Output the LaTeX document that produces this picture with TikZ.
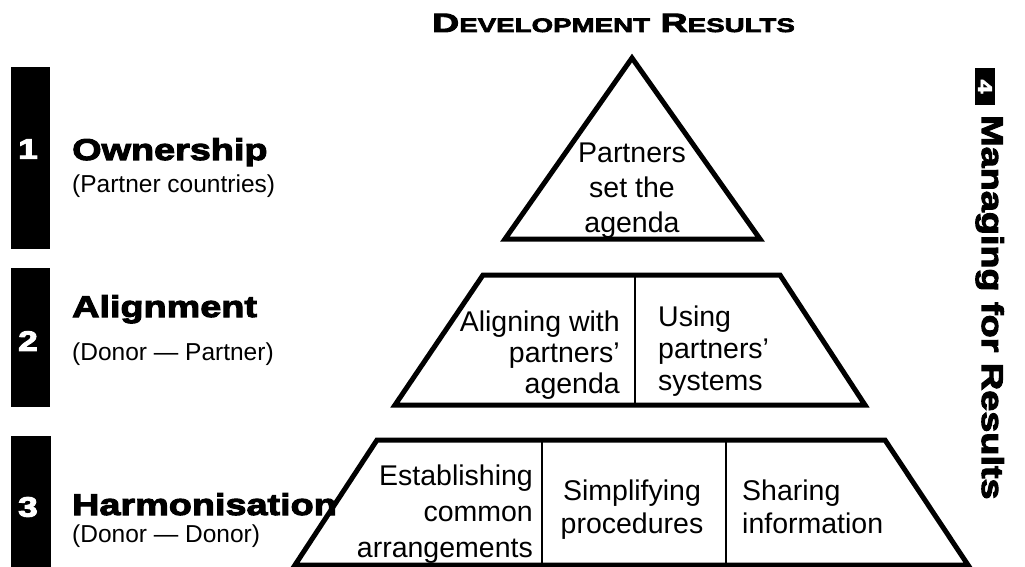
\documentclass[tikz,border=0pt]{standalone}
\usepackage{fontspec}
\setmainfont{Liberation Sans}
\newfontfamily\heavy[FakeBold=3.5,FakeStretch=1.26]{Liberation Sans Bold}
\newfontfamily\heavytitle[FakeBold=3.5,FakeStretch=1.42]{Liberation Sans Bold}
\begin{document}
\begin{tikzpicture}[x=1pt,y=-1pt,
  shapeline/.style={line width=5pt,line join=miter},
  divider/.style={line width=2pt},
  body/.style={inner sep=0pt,font=\fontsize{28.5}{#1}\selectfont},
  num/.style={text=white,inner sep=0pt,font=\heavy\fontsize{28}{28}\selectfont},
  heading/.style={anchor=base west,inner sep=0pt,font=\heavy\fontsize{30}{30}\selectfont},
  sub/.style={anchor=base west,inner sep=0pt,font=\fontsize{24.5}{24.5}\selectfont},
  bar/.style={fill=black}]
\useasboundingbox (0,0) rectangle (1025,567);

% title
\node[anchor=base,inner sep=0pt,font=\heavytitle] (title) at (613.5,32)
  {{\fontsize{26.5}{26.5}\selectfont D}{\fontsize{19.5}{19.5}\selectfont EVELOPMENT}\fontsize{26.5}{26.5}\selectfont{} R{\fontsize{19.5}{19.5}\selectfont ESULTS}};

% left bars and numbers
\fill[bar] (11,67) rectangle (50,249);
\fill[bar] (11,268) rectangle (50,407);
\fill[bar] (11,436) rectangle (51,567);
\node[num] (n1) at (28,149) {1};
\node[num] (n2) at (28,341) {2};
\node[num] (n3) at (28,507) {3};

\node[heading] (own) at (72,160) {Ownership};
\node[sub] (ownsub) at (72,192) {(Partner countries)};
\node[heading] (ali) at (72,317) {Alignment};
\node[sub] (alisub) at (72,360) {(Donor — Partner)};
\node[heading] (har) at (72,515) {Harmonisation};
\node[sub] (harsub) at (72,542) {(Donor — Donor)};

% triangle
\draw[shapeline] (632,58) -- (760,239) -- (505,239) -- cycle;
\node[body=35,anchor=north,align=center] (t1) at (632,143) {Partners\\set the\\agenda};

% middle trapezoid
\draw[shapeline] (483,275) -- (780,275) -- (865,405) -- (395,405) -- cycle;
\draw[divider] (635,275) -- (635,405);
\node[body=31,anchor=north east,align=right] (m1) at (620,311) {Aligning with\\partners'\\agenda};
\node[body=32,anchor=north west,align=left] (m2) at (658,306) {Using\\partners'\\systems};

% bottom trapezoid
\draw[shapeline] (377,440) -- (885,440) -- (968,565) -- (295,565) -- cycle;
\draw[divider] (542,440) -- (542,565);
\draw[divider] (726,440) -- (726,565);
\node[body=36,anchor=north east,align=right] (b1) at (533,465) {Establishing\\common\\arrangements};
\node[body=33,anchor=north,align=center] (b2) at (632,480) {Simplifying\\procedures};
\node[body=33,anchor=north west,align=left] (b3) at (742,480) {Sharing\\information};

% right side
\fill[bar] (975,68) rectangle (995,105);
\node[text=white,inner sep=0pt,rotate=-90,font=\heavy\fontsize{20}{20}\selectfont] (n4) at (985,86.5) {4};
\node[anchor=base west,inner sep=0pt,rotate=-90,font=\heavy\fontsize{30}{30}\selectfont] (mfr) at (982,115) {Managing for Results};
\end{tikzpicture}
\end{document}
